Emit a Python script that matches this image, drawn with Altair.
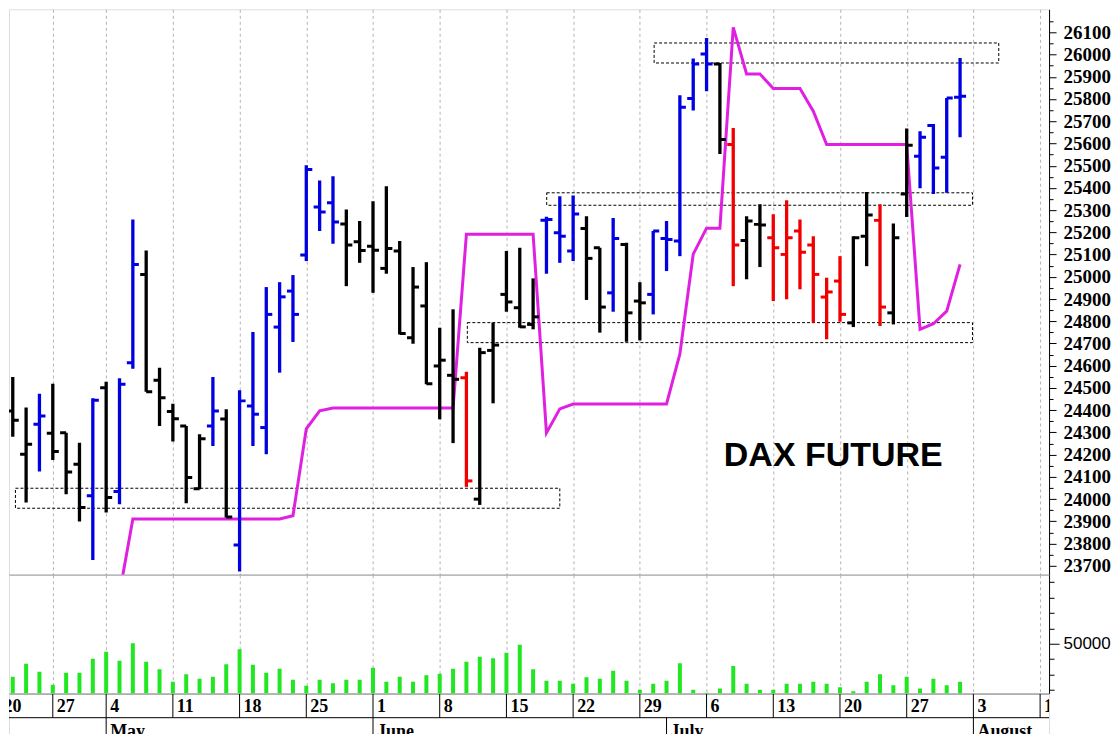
import altair as alt
import pandas as pd

# ---------------- data ----------------
bar_index = list(range(72))
opens = [24397, 24202, 24337, 24296, 24299, 24157, 24015, 24501, 24034, 24614,
         25011, 24535, 24394, 24329, 24047, 24329, 24360, 23794, 24419, 24322,
         24774, 24936, 25098, 25314, 25333, 25238, 25158, 25138, 25038, 25116,
         24726, 24869, 24599, 24557, 24546, 24000, 24669, 24921, 24861, 24786,
         25255, 25198, 25116, 25218, 25131, 24928, 25146, 24891, 24921, 25173,
         25161, 25802, 26003, 25957, 25595, 25164, 25236, 25176, 25101, 25206,
         25143, 24909, 24981, 24793, 25183, 25254, 24838, 25373, 25543, 25681,
         25538, 25808]
highs = [24549, 24412, 24474, 24519, 24299, 24254, 24454, 24528, 24544, 25258,
         25119, 24591, 24429, 24329, 24292, 24549, 24404, 24490, 24752, 24954,
         24976, 25008, 25502, 25433, 25453, 25303, 25251, 25340, 25408, 25161,
         25044, 25066, 24771, 24854, 24573, 24681, 24794, 25116, 25131, 24993,
         25270, 25363, 25366, 25273, 25131, 25265, 25153, 24976, 25206, 25251,
         25817, 25982, 26074, 25962, 25670, 25273, 25326, 25281, 25345, 25258,
         25183, 24996, 25093, 25183, 25382, 25326, 25240, 25667, 25655, 25688,
         25805, 25985]
lows = [24281, 23985, 24124, 24176, 24022, 23899, 23726, 23940, 23977, 24587,
        24483, 24329, 24259, 23982, 24045, 24239, 23917, 23674, 24239, 24202,
        24569, 24707, 25071, 25206, 25149, 24958, 25063, 24928, 25014, 24741,
        24699, 24517, 24359, 24252, 24055, 23974, 24431, 24843, 24771, 24764,
        25014, 25063, 25071, 24896, 24749, 24843, 24708, 24714, 24831, 25026,
        25093, 25748, 25835, 25553, 24958, 24989, 25044, 24891, 24899, 24944,
        24794, 24719, 24798, 24774, 25048, 24779, 24786, 25269, 25398, 25373,
        25378, 25628]
closes = [24355, 24247, 24374, 24214, 24122, 23962, 24445, 24007, 24517, 25056,
          24483, 24456, 24362, 24097, 24272, 24397, 23920, 24442, 24382, 24831,
          24910, 24831, 25483, 25292, 25247, 25143, 25119, 25120, 25128, 24745,
          24954, 24519, 24625, 24539, 24082, 24659, 24693, 24887, 24775, 24820,
          25258, 25183, 25283, 25083, 24864, 25173, 24838, 24883, 25206, 25168,
          25763, 25958, 25958, 25618, 25143, 25251, 25233, 25131, 25176, 25111,
          25011, 24932, 24831, 25176, 25278, 24864, 25176, 25592, 25628, 25490,
          25805, 25812]
bar_colors = ["k", "k", "b", "k", "k", "k", "b", "k", "b", "b",
              "k", "k", "k", "k", "k", "b", "k", "b", "b", "b",
              "b", "b", "b", "b", "b", "k", "k", "k", "k", "k",
              "k", "k", "k", "k", "r", "k", "k", "k", "k", "k",
              "b", "b", "b", "k", "k", "b", "k", "k", "b", "b",
              "b", "b", "b", "k", "r", "k", "k", "r", "r", "r",
              "r", "r", "r", "k", "k", "r", "k", "k", "b", "b",
              "b", "b"]
volumes = [28600, 37000, 31800, 23400, 31200, 31200, 40300, 44800, 39000, 50300,
           38300, 33400, 25300, 30100, 27300, 28600, 36600, 46400, 36400, 31200,
           33800, 26600, 22700, 26600, 24400, 26600, 26600, 34400, 25300, 28600,
           25300, 29500, 30500, 33800, 38300, 41600, 40600, 44200, 49400, 33400,
           26000, 26000, 24000, 28200, 27300, 32500, 26000, 20100, 24000, 26000,
           37300, 20100, 18200, 21000, 35500, 24000, 20100, 20100, 24000, 24000,
           25300, 24000, 21800, 19200, 25300, 30200, 23000, 28600, 21000, 27300,
           23000, 25300]

stop_index = list(range(8, 72))
stop_values = [23575,
               23911, 23911, 23911, 23911, 23911, 23911, 23911, 23911, 23911, 23911, 23911, 23911,
               23925, 24316, 24397,
               24410, 24410, 24410, 24410, 24410, 24410, 24410, 24410, 24410, 24410,
               25192, 25192, 25192, 25192, 25192, 25192,
               24298, 24406,
               24428, 24428, 24428, 24428, 24428, 24428, 24428, 24428,
               24653, 25102, 25219, 25219, 26122, 25913, 25913, 25847, 25847, 25847, 25745,
               25595, 25595, 25595, 25595, 25595, 25595, 25595,
               24764, 24789, 24846, 25056]

zone_start = [0.2, 34.07, 40.02, 48.07]
zone_end = [41.0, 71.93, 71.93, 73.9]
zone_low = [23959, 24704, 25322, 25962]
zone_high = [24049, 24794, 25378, 26052]

week_index = [-1, 3, 7, 12, 17, 22, 27, 32, 37, 42, 47, 52, 57, 62, 67, 72, 77]
week_labels = ["20", "27", "4", "11", "18", "25", "1", "8", "15", "22", "29",
               "6", "13", "20", "27", "3", "10"]
grid_index = week_index[1:]
month_index = [7, 27, 49, 72]
month_labels = ["May", "June", "July", "August"]

price_ticks = list(range(23700, 26200, 50))
volume_ticks = [20000, 30000, 40000, 50000, 60000, 70000, 80000, 90000]

title_text = ["DAX FUTURE"]

# ---------------- layout constants ----------------
W = 1041
H_PRICE = 566
H_VOL = 119
H_DATE = 41
X_DOMAIN = [-0.2824, 77.67]
P_DOMAIN = [23659.5, 26203.4]
V_DOMAIN = [17532, 94805]

BLUE, BLACK, RED = "#0000e0", "#000000", "#f00000"
MAGENTA = "#e020e0"
GREEN = "#22e622"

xs = alt.Scale(domain=X_DOMAIN, nice=False, zero=False)
ps = alt.Scale(domain=P_DOMAIN, nice=False, zero=False)
vs = alt.Scale(domain=V_DOMAIN, nice=False, zero=False)

xaxis = alt.Axis(values=grid_index, grid=True, gridColor="#b4b4b4", gridDash=[3, 3],
                 gridWidth=1, labels=False, ticks=False, domain=True,
                 domainColor="black", domainWidth=1, title=None, orient="bottom")

paxis = alt.Axis(orient="right", values=price_ticks,
                 labelExpr="(datum.value % 100 == 0 && datum.value <= 26100) ? datum.value : ''",
                 tickSize={"condition": {"test": "datum.value % 100 == 0", "value": 7}, "value": 4},
                 tickColor="black", tickWidth=1, labelFont="Liberation Serif",
                 labelFontSize=19, labelFontWeight="bold", labelColor="black",
                 labelPadding=7, domain=True, domainColor="black", grid=False,
                 title=None, labelOverlap=False, labelFlush=False)

vaxis = alt.Axis(orient="right", values=volume_ticks,
                 labelExpr="datum.value == 50000 ? '50000' : ''",
                 tickSize={"condition": {"test": "datum.value == 50000", "value": 10}, "value": 5},
                 tickColor="black", tickWidth=1, labelFont="Liberation Sans",
                 labelFontSize=17, labelColor="black", labelPadding=4,
                 domain=True, domainColor="black", grid=False, title=None,
                 labelOverlap=False, labelFlush=False)


def X(field):
    return alt.X(field, type="quantitative", scale=xs, axis=xaxis)


def YP(field):
    return alt.Y(field, type="quantitative", scale=ps, axis=paxis)


color_enc = alt.Color("col:N", scale=alt.Scale(domain=["b", "k", "r"], range=[BLUE, BLACK, RED]),
                      legend=None)

bars_df = pd.DataFrame({"i": bar_index, "o": opens, "h": highs, "l": lows,
                        "c": closes, "col": bar_colors})
vol_df = pd.DataFrame({"i": bar_index, "v": volumes})
stop_df = pd.DataFrame({"i": stop_index, "s": stop_values})
zone_df = pd.DataFrame({"zs": zone_start, "ze": zone_end, "zl": zone_low, "zh": zone_high})
week_df = pd.DataFrame({"i": week_index, "lab": week_labels})
month_df = pd.DataFrame({"i": month_index, "lab": month_labels})
title_df = pd.DataFrame({"t": title_text})

# ---------------- price panel ----------------
zones = alt.Chart(zone_df).mark_rect(filled=False, stroke="black", strokeWidth=1,
                                     strokeDash=[3, 2], clip=True).encode(
    x=X("zs"), x2="ze", y=YP("zl"), y2="zh")

hl = alt.Chart(bars_df).mark_rule(strokeWidth=3.3, clip=True).encode(
    x=X("i"), y=YP("l"), y2="h", color=color_enc)

open_tick = alt.Chart(bars_df).transform_calculate(xo="datum.i - 0.45").mark_rule(
    strokeWidth=3, clip=True).encode(x=X("xo"), x2="i", y=YP("o"), color=color_enc)

close_tick = alt.Chart(bars_df).transform_calculate(xc="datum.i + 0.45").mark_rule(
    strokeWidth=3, clip=True).encode(x=X("i"), x2="xc", y=YP("c"), color=color_enc)

stop_line = alt.Chart(stop_df).mark_line(color=MAGENTA, strokeWidth=3, clip=True).encode(
    x=X("i"), y=YP("s"))

title = alt.Chart(title_df).mark_text(font="Liberation Sans", fontSize=34, fontWeight="bold",
                                      color="black", align="center", baseline="middle").encode(
    x=alt.value(825), y=alt.value(447), text="t:N")

price = alt.layer(zones, stop_line, hl, open_tick, close_tick, title).properties(
    width=W, height=H_PRICE)

# ---------------- volume panel ----------------
vol = alt.Chart(vol_df).mark_rule(strokeWidth=4, color=GREEN, clip=True).encode(
    x=X("i"),
    y=alt.Y("v", type="quantitative", scale=vs, axis=vaxis),
    y2=alt.datum(V_DOMAIN[0]),
).properties(width=W, height=H_VOL)

# ---------------- date axis panel ----------------
xd = alt.X("i", type="quantitative", scale=xs, axis=None)
week_rules = alt.Chart(week_df).mark_rule(color="black", strokeWidth=1, clip=True).encode(
    x=xd, y=alt.value(0), y2=alt.value(24))
mid_rule = alt.Chart(title_df).mark_rule(color="black", strokeWidth=1).encode(
    x=alt.value(0), x2=alt.value(W), y=alt.value(24))
month_rules = alt.Chart(month_df).mark_rule(color="black", strokeWidth=1, clip=True).encode(
    x=xd, y=alt.value(24), y2=alt.value(H_DATE))
week_text = alt.Chart(week_df).mark_text(align="left", baseline="middle", dx=4,
                                         font="Liberation Serif", fontSize=18,
                                         fontWeight="bold", color="black", clip=True).encode(
    x=xd, y=alt.value(13), text="lab:N")
month_text = alt.Chart(month_df).mark_text(align="left", baseline="alphabetic", dx=4,
                                           font="Liberation Serif", fontSize=18,
                                           fontWeight="bold", color="black").encode(
    x=xd, y=alt.value(43), text="lab:N")

dates = alt.layer(week_rules, mid_rule, month_rules, week_text, month_text).properties(
    width=W, height=H_DATE)

chart = alt.VConcatChart(vconcat=[price, vol, dates], spacing=0, bounds="flush",
                         padding={"left": 0, "top": 0, "right": 0, "bottom": 0}
                         ).configure_view(stroke=None).configure(background="white")

chart.save("out.html", embed_options={"renderer": "svg", "actions": False})
